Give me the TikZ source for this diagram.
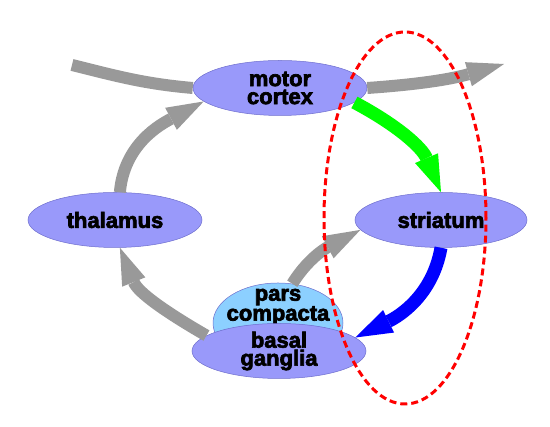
\documentclass[tikz,border=0pt]{standalone}
\usepackage{fontspec}
\setmainfont{Liberation Sans}[BoldFeatures = {FakeBold = 3}]
\usetikzlibrary{shapes.geometric, arrows.meta}
\definecolor{areaBlue}{RGB}{153,153,250}
\definecolor{areaEdge}{RGB}{110,110,205}
\definecolor{pcBlue}{RGB}{140,208,255}
\definecolor{myGray}{RGB}{153,153,153}
\colorlet{myGreen}{green}
\colorlet{myBlue}{blue}

\begin{document}
\begin{tikzpicture}[x = 1pt, y = 1pt,
		words/.style = {align = center, font = \fontsize{22}{18}\selectfont\bfseries},
		area/.style = {ellipse, draw = areaEdge, line width = 0.5pt, fill = areaBlue, inner sep = 0pt,
			minimum width = 174pt, minimum height = 55pt, words},
		pathway/.style = {draw = myGray, line width = 12pt,
			-{Triangle[length = 37pt, width = 25pt, line width = 0pt]}}]
		\useasboundingbox (0, 0) rectangle (550, 427);
		%%%%%%%%%%%%%
		\node[area] (mc) at (280, 339) {motor\\cortex};
		\node[area] (th) at (115, 207) {thalamus};
		\node[area, minimum width = 172pt] (st) at (441, 207) {striatum};
		\node[area, fill = pcBlue, minimum width = 130pt, minimum height = 80pt,
			label = {[words, yshift = 16pt]center:{pars\\compacta}}] (pc) at (278, 104) {};
		\node[area] (bg) at (279, 76) {basal\\ganglia};
		\coordinate (a0) at (72, 362);
		\coordinate (a1) at (504, 363);
		%%%%%%%%%%%%%
		\draw[pathway, -] (a0) to[out = -14, in = 175] (mc.west);
		\draw[pathway] (mc.east) to[out = 4, in = 196] (a1);
		\draw[pathway] (th.80) to[out = 85, in = 208] (mc.190);
		\draw[pathway] (bg.168) to[out = 150, in = -68] (th.-80);
		\draw[pathway] (pc.70) to[out = 58, in = 208] (st.187);
		\draw[pathway, draw = myGreen, line width = 13pt] (mc.-11) to[out = -28, in = 113] (st.north);
		\draw[pathway, draw = myBlue, line width = 13pt] (st.south) to[out = -100, in = 26] (bg.10);
		%%%%%%%%%%%%%
		\node[ellipse, draw = red, line width = 3pt, dash pattern = on 7pt off 4pt,
			minimum width = 162pt, minimum height = 372pt] (loop) at (405, 209) {};
\end{tikzpicture}
\end{document}
